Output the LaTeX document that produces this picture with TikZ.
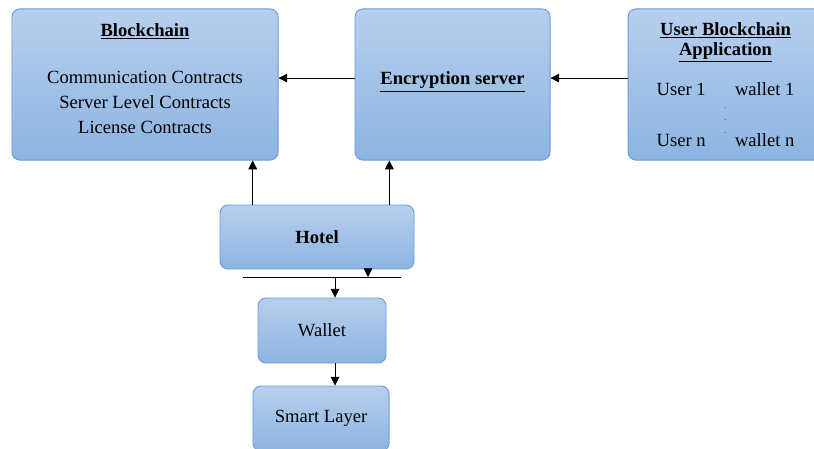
\documentclass[tikz,border=0pt]{standalone}
\usepackage{fontspec}
\setmainfont{Liberation Serif}
\usepackage{xcolor}
\usetikzlibrary{arrows.meta,positioning,calc}
\definecolor{boxtop}{RGB}{183,207,237}
\definecolor{boxbottom}{RGB}{141,180,226}
\definecolor{boxedge}{RGB}{104,157,214}

\begin{document}
\begin{tikzpicture}[
    panel/.style={draw=boxedge,line width=0.7pt,top color=boxtop,bottom color=boxbottom,
      rounded corners=6pt,align=center,inner sep=0pt,
      font=\fontsize{14}{18.75}\selectfont},
    flow/.style={-{Triangle[length=2.3mm,width=2.3mm]},line width=0.6pt,color=black},
    bus/.style={line width=0.6pt,color=black}
  ]
    \useasboundingbox (0,0) rectangle (21.537,11.854);
    \fill[white] (0,0) rectangle (21.537,11.854);
    \clip (0,0) rectangle (21.537,11.854);

    \node[panel,minimum width=7.04cm,minimum height=4.0cm] (chain) at (3.837,9.618)
      {\raisebox{3.5pt}[\height][\depth]{\begin{tabular}{@{}c@{}}
       \underline{\textbf{Blockchain}}\\[17pt]
       Communication Contracts\\ Server Level Contracts\\ License Contracts
       \end{tabular}}};
    \node[panel,minimum width=5.16cm,minimum height=4.0cm] (crypt) at (11.973,9.618)
      {\raisebox{2pt}[\height][\depth]{\underline{\textbf{Encryption server}}}};
    \node[panel,minimum width=5.16cm,minimum height=4.0cm,
      font=\fontsize{14}{15}\selectfont] (app) at (19.197,9.618)
      {\underline{\textbf{User Blockchain}}\\ \underline{\textbf{Application}}\\[15pt]
       User 1\hspace{22pt}wallet 1\\[-5.4pt]
       {\color{black!60}\footnotesize .}\\[-5.4pt] {\color{black!60}\footnotesize .}\\[-5.4pt]
       {\color{black!60}\footnotesize .}\\[-5.4pt]
       User n\hspace{22pt}wallet n};
    \node[panel,minimum width=5.133cm,minimum height=1.693cm,font=\fontsize{14}{17}\selectfont\bfseries]
      (hotel) at (8.388,5.583) {Hotel};
    \node[panel,minimum width=3.387cm,minimum height=1.72cm] (wallet) at (8.52,3.109) {Wallet};
    \node[panel,minimum width=3.6cm,minimum height=1.72cm] (smart) at (8.494,0.781) {Smart Layer};

    % bus line under the hotel
    \coordinate (bus west) at (6.43,4.525);
    \coordinate (bus east) at (10.61,4.525);
    \coordinate (bus in) at (9.737,4.525);
    \coordinate (bus out) at (8.864,4.525);
    \coordinate (hotel left) at ($(hotel.north west)!0.17!(hotel.north east)$);
    \coordinate (hotel right) at ($(hotel.north west)!0.871!(hotel.north east)$);

    % top row links
    \draw[flow] ([yshift=0.17cm]crypt.west) -- ([yshift=0.17cm]chain.east);
    \draw[flow] ([yshift=0.17cm]app.west) -- ([yshift=0.17cm]crypt.east);

    % hotel up to blockchain and server
    \draw[flow] (hotel left) -- (hotel left |- chain.south);
    \draw[flow] (hotel right) -- (hotel right |- crypt.south);

    % hotel down through the bus to wallet and smart layer
    \draw[bus] (bus west) -- (bus east);
    \draw[flow] (hotel.south -| bus in) -- (bus in);
    \draw[flow] (bus out) -- (bus out |- wallet.north);
    \draw[flow] (wallet.south -| bus out) -- (bus out |- smart.north);
  \end{tikzpicture}
\end{document}
